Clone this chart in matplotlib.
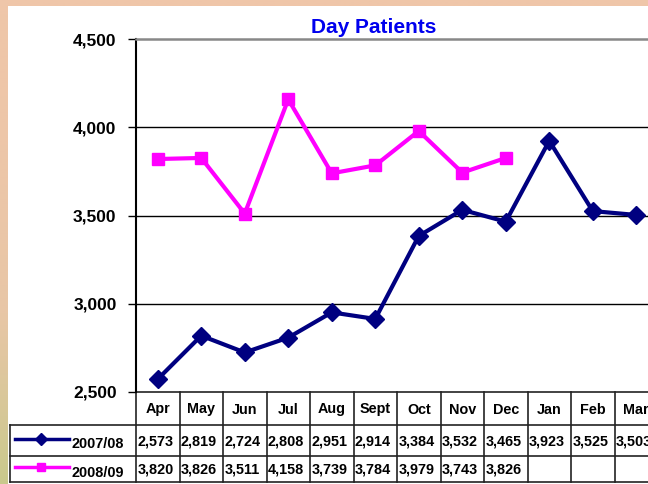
import numpy as np
import matplotlib
matplotlib.use("Agg")
import matplotlib.pyplot as plt
from matplotlib import transforms
from matplotlib.colors import LinearSegmentedColormap

plt.rcParams["font.family"] = ["Liberation Sans", "DejaVu Sans"]

# ── Données ─────────────────────────────────────────────────────────────────
MONTHS = ["Apr", "May", "Jun", "Jul", "Aug", "Sept", "Oct", "Nov", "Dec", "Jan", "Feb", "Mar"]
Y0708 = [2573, 2819, 2724, 2808, 2951, 2914, 3384, 3532, 3465, 3923, 3525, 3503]
Y0809 = [3820, 3826, 3511, 4158, 3739, 3784, 3979, 3743, 3826]
SERIES = ["2007/08", "2008/09"]
YTICKS = [2500, 3000, 3500, 4000, 4500]

NAVY = "#000080"
MAGENTA = "#FF00FF"

W, H = 648, 484
fig = plt.figure(figsize=(W / 100, H / 100), dpi=100)

# ── Fond (bordure dégradée + panneau blanc) ────────────────────────────────
bg = fig.add_axes([0, 0, 1, 1])
bg.set_xlim(0, W)
bg.set_ylim(H, 0)
bg.axis("off")
cmap = LinearSegmentedColormap.from_list("bord", ["#EFC6A9", "#E8C6A6", "#C9C98C"])
grad = np.linspace(0, 1, 256).reshape(-1, 1) ** 1.6
bg.imshow(grad, cmap=cmap, extent=(0, W, H, 0), aspect="auto", zorder=0)
bg.add_patch(plt.Rectangle((8, 6), W - 8, H - 6, facecolor="white", edgecolor="none", zorder=1))

# ── Graphique principal ────────────────────────────────────────────────────
L, R, T, B = 136, 658, 39, 392
ax = fig.add_axes([L / W, (H - B) / H, (R - L) / W, (B - T) / H])
ax.set_facecolor("none")
ax.set_xlim(-0.5, len(MONTHS) - 0.5)
ax.set_ylim(2500, 4500)
ax.set_yticks(YTICKS)
ax.set_yticklabels([f"{v:,}" for v in YTICKS], fontsize=12.5, fontweight="bold")
ax.set_xticks([])
ax.tick_params(axis="y", length=6, width=1, pad=8)
for v in YTICKS[1:-1]:
    ax.axhline(v, color="black", lw=1, zorder=1)
ax.spines["left"].set_linewidth(1.5)
ax.spines["top"].set_color("#888888")
ax.spines["top"].set_linewidth(1.8)
ax.spines["right"].set_visible(False)
ax.spines["bottom"].set_visible(False)

x = np.arange(len(MONTHS))
ax.plot(x, Y0708, color=NAVY, lw=3, marker="D", ms=9, zorder=3, clip_on=False)
ax.plot(x[:len(Y0809)], Y0809, color=MAGENTA, lw=3, marker="s", ms=8.5, zorder=3, clip_on=False)

fig.text(374 / W, 1 - 33 / H, "Day Patients", color="#0000EE", fontsize=15,
         fontweight="bold", ha="center", va="baseline")

# ── Tableau de données ─────────────────────────────────────────────────────
tr = transforms.blended_transform_factory(ax.transData, bg.transData)
ROW_Y = [392, 425, 456, 482]
LEFT = 10
lc = "#222222"
for yy in ROW_Y:
    x0 = L if yy == ROW_Y[0] else LEFT
    bg.plot([x0, W], [yy, yy], color=lc, lw=1.2, zorder=4, clip_on=False)
bg.plot([LEFT, LEFT], [ROW_Y[1], ROW_Y[3]], color=lc, lw=1.2, zorder=4)
bg.plot([L, L], [ROW_Y[0], ROW_Y[3]], color=lc, lw=1.2, zorder=4)
for i in range(len(MONTHS)):
    bg.plot([i + 0.5, i + 0.5], [ROW_Y[0], ROW_Y[3]], color=lc, lw=1.2, zorder=4,
            transform=tr, clip_on=False)

fs = 10.4
for i, m in enumerate(MONTHS):
    bg.text(i, (ROW_Y[0] + ROW_Y[1]) / 2 + 1, m, transform=tr, ha="center", va="center",
            fontsize=fs, fontweight="bold", zorder=5)
    bg.text(i - 0.47, (ROW_Y[1] + ROW_Y[2]) / 2 + 1, f"{Y0708[i]:,}", transform=tr,
            ha="left", va="center", fontsize=fs, fontweight="bold", zorder=5)
    if i < len(Y0809):
        bg.text(i - 0.47, (ROW_Y[2] + ROW_Y[3]) / 2 + 1, f"{Y0809[i]:,}", transform=tr,
                ha="left", va="center", fontsize=fs, fontweight="bold", zorder=5)

# légendes dans les libellés de lignes
for k, (name, col, mk, ms) in enumerate(zip(SERIES, [NAVY, MAGENTA], ["D", "s"], [6, 5.5])):
    yc = (ROW_Y[k + 1] + ROW_Y[k + 2]) / 2
    bg.plot([15, 69], [yc - 2, yc - 2], color=col, lw=2.5, zorder=5)
    bg.plot([41], [yc - 2], color=col, marker=mk, ms=ms, zorder=5)
    bg.text(72, yc + 4, name, ha="left", va="center", fontsize=fs, fontweight="bold", zorder=5)

fig.savefig("out.png", dpi=100)
